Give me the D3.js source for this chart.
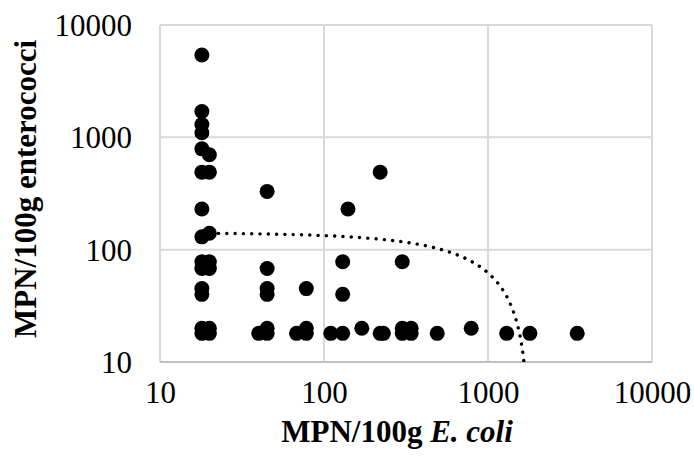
<!DOCTYPE html>
<html>
<head>
<meta charset="utf-8">
<script src="https://cdn.jsdelivr.net/npm/d3@7"></script>
<style>
  html, body { margin: 0; padding: 0; background: #fff; }
  svg { display: block; }
  text { font-family: "Liberation Serif", "Times New Roman", serif; fill: #000; }
</style>
</head>
<body>
<div id="chart"></div>
<script>
// MPN/100g sample pairs: E. coli (x) against enterococci (y)
const ecoli = [
  18, 18, 18, 18, 18, 18, 18, 18, 18, 18, 18, 18, 18, 18,
  20, 20, 20, 20, 20, 20, 20,
  40,
  45, 45, 45, 45, 45, 45,
  68,
  78, 78, 78,
  110,
  130, 130, 130,
  140,
  170,
  220, 220,
  230,
  300, 300, 300,
  340, 340,
  490,
  790,
  1300,
  1800,
  3500
];
const enterococci = [
  5400, 1700, 1300, 1100, 790, 490, 230, 130, 78, 68, 45, 40, 20, 18,
  700, 490, 140, 78, 68, 20, 18,
  18,
  330, 68, 45, 40, 20, 18,
  18,
  45, 20, 18,
  18,
  78, 40, 18,
  230,
  20,
  490, 18,
  18,
  78, 20, 18,
  20, 18,
  18,
  20,
  18,
  18,
  18
];

// Axis ticks (log scales)
const xTicks = [10, 100, 1000, 10000];
const yTicks = [10, 100, 1000, 10000];
const xTickLabels = ["10", "100", "1000", "10000"];
const yTickLabels = ["10", "100", "1000", "10000"];

// Linear trendline  y = trendIntercept + trendSlope * x
const trendIntercept = 141.4;
const trendSlope = -0.0793;

const W = 694, H = 459;
const plot = { left: 160, right: 652, top: 25, bottom: 362 };

const svg = d3.select("#chart").append("svg")
  .attr("width", W).attr("height", H);

const x = d3.scaleLog().domain([10, 10000]).range([plot.left, plot.right]);
const y = d3.scaleLog().domain([10, 10000]).range([plot.bottom, plot.top]);

// Gridlines
const grid = svg.append("g");
grid.selectAll("line.v").data(xTicks).join("line")
  .attr("class", "v")
  .attr("x1", d => x(d)).attr("x2", d => x(d))
  .attr("y1", plot.top).attr("y2", plot.bottom)
  .attr("stroke", "#d9d9d9").attr("stroke-width", 2);
grid.selectAll("line.h").data(yTicks).join("line")
  .attr("class", "h")
  .attr("x1", plot.left).attr("x2", plot.right)
  .attr("y1", d => y(d)).attr("y2", d => y(d))
  .attr("stroke", d => d === 10 ? "#bfbfbf" : "#d9d9d9").attr("stroke-width", 2);

// Axes (labels only; lines come from the grid)
const fmtX = d => xTickLabels[xTicks.indexOf(d)];
const fmtY = d => yTickLabels[yTicks.indexOf(d)];

const xAxis = svg.append("g")
  .attr("transform", `translate(0,${plot.bottom})`)
  .call(d3.axisBottom(x).tickValues(xTicks).tickFormat(fmtX).tickSize(0).tickPadding(0));
xAxis.select(".domain").remove();
xAxis.selectAll("text")
  .attr("y", 41).attr("dy", 0)
  .style("font-size", "31px").style("font-family", "'Liberation Serif', serif");

const yAxis = svg.append("g")
  .attr("transform", `translate(${plot.left},0)`)
  .call(d3.axisLeft(y).tickValues(yTicks).tickFormat(fmtY).tickSize(0).tickPadding(0));
yAxis.select(".domain").remove();
yAxis.selectAll("text")
  .attr("x", -28).attr("dy", "0.34em")
  .style("font-size", "31px").style("font-family", "'Liberation Serif', serif");

// Scatter points
const pts = ecoli.map((v, i) => ({ x: v, y: enterococci[i] }));
svg.append("g").selectAll("circle").data(pts).join("circle")
  .attr("cx", d => x(d.x)).attr("cy", d => y(d.y))
  .attr("r", 7.5).attr("fill", "#000");

// Trendline, clipped to the plot area
svg.append("clipPath").attr("id", "plotClip")
  .append("rect")
  .attr("x", plot.left).attr("y", plot.top)
  .attr("width", plot.right - plot.left).attr("height", plot.bottom - plot.top);

const xMin = d3.min(ecoli);
const xEnd = (10 * 0.9 - trendIntercept) / trendSlope;
const trendPts = d3.range(0, 401).map(i => {
  const lx = Math.log10(xMin) + (Math.log10(xEnd) - Math.log10(xMin)) * i / 400;
  const xv = Math.pow(10, lx);
  return [xv, trendIntercept + trendSlope * xv];
}).filter(p => p[1] > 0);

svg.append("path")
  .datum(trendPts)
  .attr("clip-path", "url(#plotClip)")
  .attr("fill", "none")
  .attr("stroke", "#000")
  .attr("stroke-width", 3.4)
  .attr("stroke-linecap", "round")
  .attr("stroke-dasharray", "0.1 8.2")
  .attr("d", d3.line().x(p => x(p[0])).y(p => y(p[1])));

// Axis titles
svg.append("text")
  .attr("x", 397).attr("y", 442)
  .attr("text-anchor", "middle")
  .style("font-size", "31px").style("font-weight", "bold")
  .call(t => {
    t.append("tspan").text("MPN/100g ");
    t.append("tspan").style("font-style", "italic").text("E. coli");
  });

svg.append("text")
  .attr("transform", "translate(36,189) rotate(-90)")
  .attr("text-anchor", "middle")
  .style("font-size", "31px").style("font-weight", "bold")
  .text("MPN/100g enterococci");
</script>
</body>
</html>
